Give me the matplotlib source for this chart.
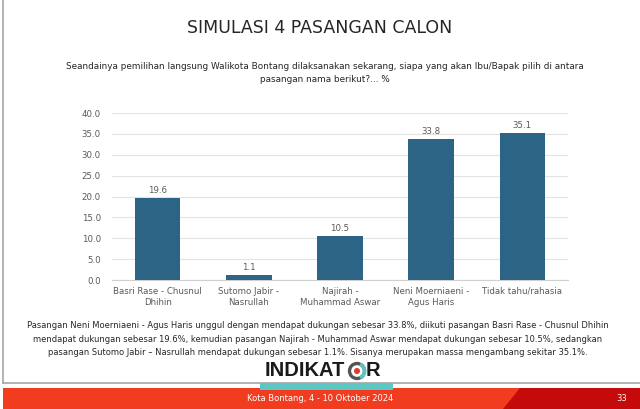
import matplotlib
matplotlib.use("Agg")
import matplotlib.pyplot as plt
from matplotlib.patches import Rectangle, Polygon, Circle, Wedge

# chart data
categories = ["Basri Rase - Chusnul\nDhihin", "Sutomo Jabir -\nNasrullah",
              "Najirah -\nMuhammad Aswar", "Neni Moerniaeni -\nAgus Haris",
              "Tidak tahu/rahasia"]
values = [19.6, 1.1, 10.5, 33.8, 35.1]
yticks = [0, 5, 10, 15, 20, 25, 30, 35, 40]

title = "SIMULASI 4 PASANGAN CALON"
question = ("Seandainya pemilihan langsung Walikota Bontang dilaksanakan sekarang, siapa yang akan Ibu/Bapak pilih di antara\n"
            "pasangan nama berikut?... %")
summary = ("Pasangan Neni Moerniaeni - Agus Haris unggul dengan mendapat dukungan sebesar 33.8%, diikuti pasangan Basri Rase - Chusnul Dhihin\n"
           "mendapat dukungan sebesar 19.6%, kemudian pasangan Najirah - Muhammad Aswar mendapat dukungan sebesar 10.5%, sedangkan\n"
           "pasangan Sutomo Jabir \u2013 Nasrullah mendapat dukungan sebesar 1.1%. Sisanya merupakan massa mengambang sekitar 35.1%.")
footer = "Kota Bontang, 4 - 10 Oktober 2024"
page = "33"

bar_color = "#2b6484"
text_gray = "#595959"

fig = plt.figure(figsize=(6.4, 4.09), dpi=100)

# background layer in pixel coordinates
bg = fig.add_axes([0, 0, 1, 1], zorder=0)
bg.set_xlim(0, 640)
bg.set_ylim(409, 0)
bg.axis("off")

# slide frame
bg.plot([3, 3], [0, 383], color="#a6a6a6", lw=1.2)
bg.plot([3, 640], [383, 383], color="#a6a6a6", lw=1.2)

# footer band
bg.add_patch(Rectangle((3, 388), 640, 21, color="#f23c1f", lw=0))
bg.add_patch(Polygon([(520, 388), (640, 388), (640, 409), (503, 409)],
                     closed=True, color="#c40a0a", lw=0))
bg.add_patch(Rectangle((260, 383), 133, 7, color="#5cc6c4", lw=0))

# logo
bg.text(265, 371, "INDIKAT", fontsize=14.5, fontweight="bold", color="#1a1a1a",
        family="Liberation Sans", ha="left", va="center")
bg.add_patch(Circle((357, 371), 7.5, fill=False, ec="#555555", lw=2.4))
bg.add_patch(Wedge((357, 371), 8.7, 300, 60, width=2.4, color="#5cc6c4"))
bg.add_patch(Circle((357, 371), 2.3, color="#e03a2a"))
bg.text(366, 371, "R", fontsize=14.5, fontweight="bold", color="#1a1a1a",
        family="Liberation Sans", ha="left", va="center")

bg.text(320, 398.5, footer, fontsize=6, color="white", ha="center", va="center")
bg.text(622, 398.5, page, fontsize=6, color="white", ha="center", va="center")

# titles and texts
bg.text(320, 28, title, fontsize=12.5, color="#262626", ha="center", va="center")
bg.text(325, 73, question, fontsize=6.4, color="#262626", ha="center",
        va="center", linespacing=1.5)
bg.text(318, 339, summary, fontsize=6.05, color="#262626", ha="center",
        va="center", linespacing=1.6)

# chart
ax = fig.add_axes([0.175, 0.3154, 0.7125, 0.4083], zorder=1)
ax.patch.set_alpha(0)
x = range(len(categories))
bars = ax.bar(x, values, width=0.5, color=bar_color, zorder=3)
for b, v in zip(bars, values):
    ax.text(b.get_x() + b.get_width() / 2, v + 0.8, f"{v:.1f}", ha="center",
            va="bottom", fontsize=6.2, color=text_gray)

ax.set_ylim(0, 40)
ax.set_xlim(-0.5, len(categories) - 0.5)
ax.set_yticks(yticks)
ax.set_yticklabels([f"{t:.1f}" for t in yticks])
ax.set_xticks(list(x))
ax.set_xticklabels(categories, linespacing=1.35)
ax.tick_params(axis="both", length=0, labelsize=6.2, colors=text_gray)
ax.tick_params(axis="y", pad=8)
ax.tick_params(axis="x", pad=5)
ax.yaxis.grid(True, color="#e3e3e3", lw=0.8, zorder=0)
for s in ["top", "right", "left"]:
    ax.spines[s].set_visible(False)
ax.spines["bottom"].set_color("#d0d0d0")

fig.savefig("out.png", dpi=100)
